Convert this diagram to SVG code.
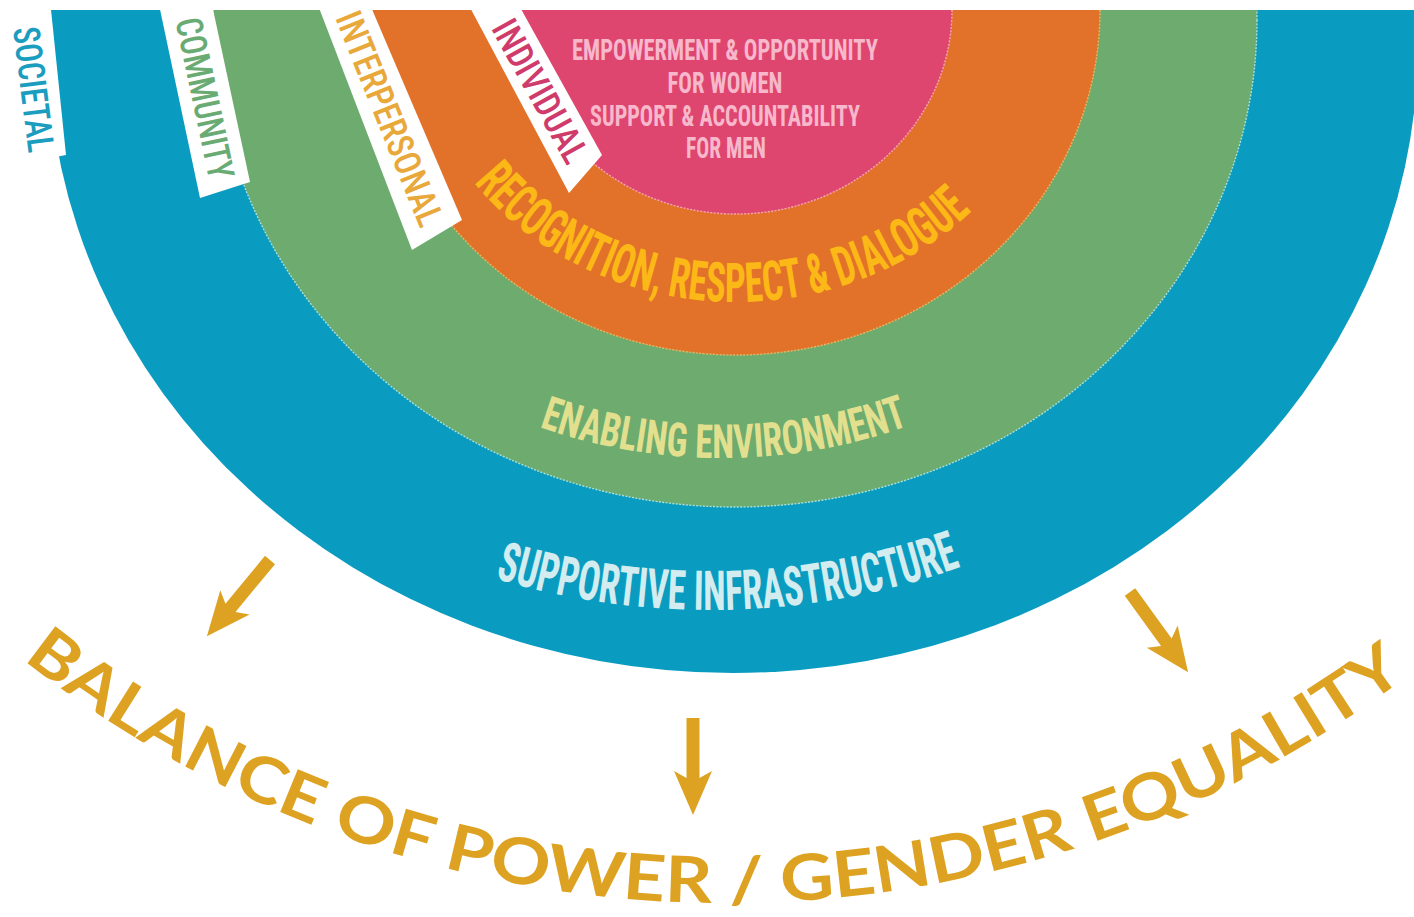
<svg xmlns="http://www.w3.org/2000/svg" width="1414" height="917" viewBox="0 0 1414 917">
<defs>
<style>
.cond{font-family:"Roboto Condensed","Liberation Sans Narrow","Roboto","Liberation Sans",sans-serif;}
.tab{fill:#ffffff;}
.tabtxt{font-size:37px;font-weight:500;}
.ringtxt{font-weight:700;}
.bound{fill:none;stroke-width:1.4;stroke-dasharray:2 1.4;}
.gold{fill:#dda221;}
.outcome{font-family:"Lato","Open Sans","Liberation Sans",sans-serif;font-size:64px;font-weight:700;fill:#dda221;}
</style>
<clipPath id="topcut"><rect x="0" y="10" width="1414" height="907"/></clipPath>
<path id="arcRecog" d="M 454.5 156 A 325 292 0 0 0 1002.2 177.5"/>
<path id="arcEnab" d="M 487.4 406 A 555 555 0 0 0 956.6 406"/>
<path id="arcSupp" d="M 429 555.4 A 750 750 0 0 0 1027 539.7"/>
<path id="arcBal" d="M 23 659.6 A 1137 1137 0 0 0 1456.9 637"/>
</defs>
<rect width="1414" height="917" fill="#ffffff"/>

<g id="rings" clip-path="url(#topcut)">
  <g id="ring-societal"><ellipse cx="733" cy="45" rx="685" ry="628" fill="#0a9cc0"/></g>
  <g id="ring-community"><ellipse cx="735" cy="20" rx="522" ry="487" fill="#6dab6f"/><ellipse class="bound" cx="735" cy="20" rx="522" ry="487" stroke="#a8dfd8"/></g>
  <g id="ring-interpersonal"><ellipse cx="736" cy="10" rx="364" ry="345" fill="#e2722a"/><ellipse class="bound" cx="736" cy="10" rx="364" ry="345" stroke="#eab55e"/></g>
  <g id="ring-individual"><ellipse cx="736" cy="10" rx="216" ry="204" fill="#df466f"/><ellipse class="bound" cx="736" cy="10" rx="216" ry="204" stroke="#f7a3b8"/></g>
</g>

<g id="tab-societal">
  <polygon class="tab" points="-5,0 50,0 66,155 18,164"/>
  <text class="cond tabtxt" fill="#1b9dc0" transform="translate(26,27) rotate(83)" x="0" y="13" textLength="126" lengthAdjust="spacingAndGlyphs">SOCIETAL</text>
</g>
<g id="tab-community">
  <polygon class="tab" points="158,0 211,0 250,182 200,198"/>
  <text class="cond tabtxt" fill="#6aab73" transform="translate(188,18) rotate(78)" x="0" y="13" textLength="164" lengthAdjust="spacingAndGlyphs">COMMUNITY</text>
</g>
<g id="tab-interpersonal">
  <polygon class="tab" points="316,0 368,0 462,220 412,250"/>
  <text class="cond tabtxt" fill="#e9a83a" transform="translate(347,13) rotate(68)" x="0" y="13" textLength="228" lengthAdjust="spacingAndGlyphs">INTERPERSONAL</text>
</g>
<g id="tab-individual">
  <polygon class="tab" points="466,0 516,0 602,155 569,193"/>
  <text class="cond tabtxt" fill="#cf3b6b" transform="translate(502,22) rotate(61)" x="0" y="13" textLength="158" lengthAdjust="spacingAndGlyphs">INDIVIDUAL</text>
</g>

<g id="individual-text" class="cond ringtxt" fill="#f7b8cc" font-size="30" text-anchor="middle">
  <text x="725" y="60" textLength="306" lengthAdjust="spacingAndGlyphs">EMPOWERMENT &amp; OPPORTUNITY</text>
  <text x="725" y="93" textLength="115" lengthAdjust="spacingAndGlyphs">FOR WOMEN</text>
  <text x="725" y="126" textLength="270" lengthAdjust="spacingAndGlyphs">SUPPORT &amp; ACCOUNTABILITY</text>
  <text x="726" y="158" textLength="80" lengthAdjust="spacingAndGlyphs">FOR MEN</text>
</g>

<g id="interpersonal-text">
  <text class="cond ringtxt" fill="#fbb816" font-size="55"><textPath href="#arcRecog" startOffset="33" textLength="556" lengthAdjust="spacingAndGlyphs">RECOGNITION, RESPECT &amp; DIALOGUE</textPath></text>
</g>
<g id="community-text">
  <text class="cond ringtxt" fill="#e2e08e" font-size="47"><textPath href="#arcEnab" startOffset="56" textLength="377" lengthAdjust="spacingAndGlyphs">ENABLING ENVIRONMENT</textPath></text>
</g>
<g id="societal-text">
  <text class="cond ringtxt" fill="#d2ecef" font-size="55"><textPath href="#arcSupp" startOffset="70" textLength="474" lengthAdjust="spacingAndGlyphs">SUPPORTIVE INFRASTRUCTURE</textPath></text>
</g>

<g id="connectors" class="gold">
  <polygon transform="translate(270,560) rotate(39.6)" points="-6.5,0 6.5,0 6.5,62 19,55 0,99 -19,55 -6.5,62"/>
  <polygon transform="translate(693,718) rotate(0)" points="-6.5,0 6.5,0 6.5,60 19,53 0,97 -19,53 -6.5,60"/>
  <polygon transform="translate(1130,592) rotate(-35.9)" points="-6.5,0 6.5,0 6.5,62 19,55 0,99 -19,55 -6.5,62"/>
</g>

<g id="outcome">
  <text class="outcome"><textPath href="#arcBal" startOffset="0" textLength="1488" lengthAdjust="spacingAndGlyphs">BALANCE OF POWER / GENDER EQUALITY</textPath></text>
</g>
</svg>
